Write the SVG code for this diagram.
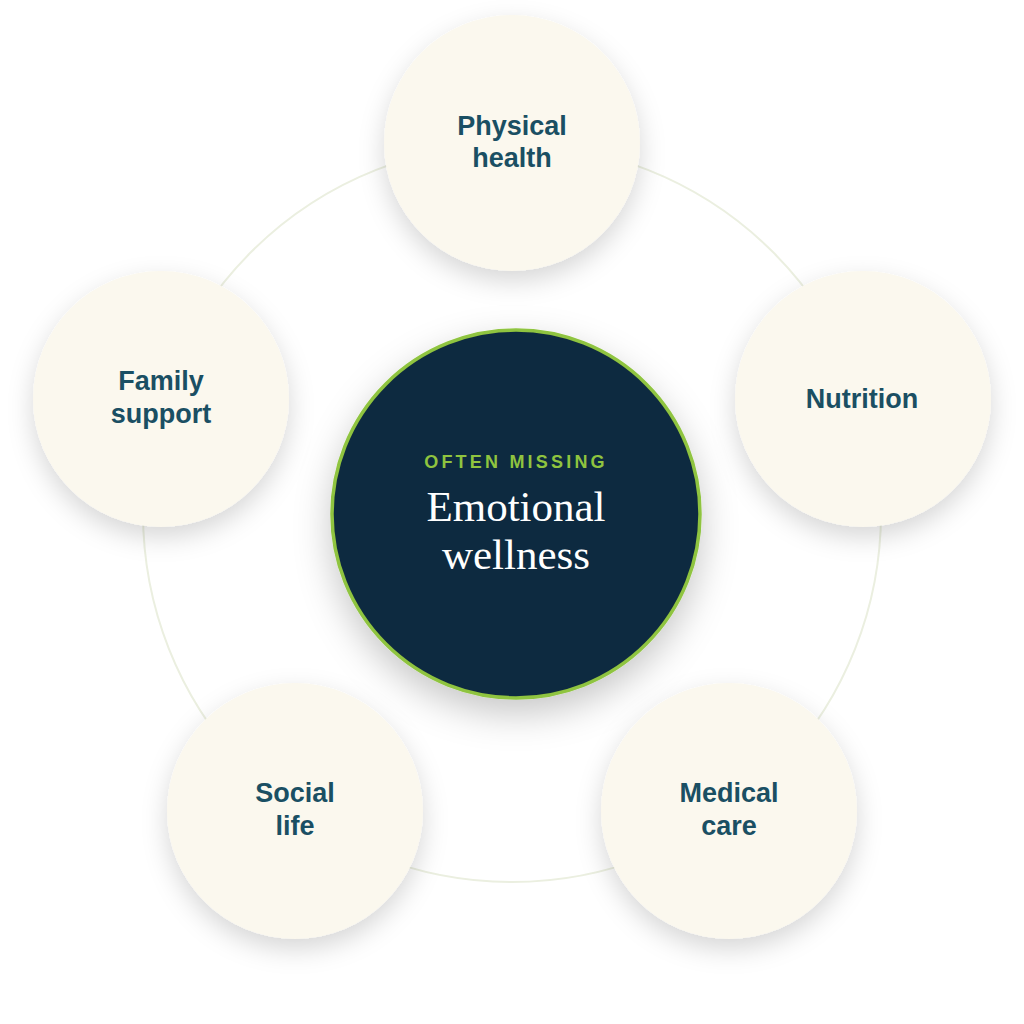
<svg xmlns="http://www.w3.org/2000/svg" width="1024" height="1024" viewBox="0 0 1024 1024">
<style>
.node{fill:#fbf8ee;filter:url(#sh);}
.lbl{font-family:"Liberation Sans",Arial,sans-serif;font-weight:bold;font-size:27px;fill:#1a4f63;text-anchor:middle;}
.ring{fill:none;stroke:#ebefe0;stroke-width:2;}
</style>
<defs>
<filter id="sh" x="-40%" y="-40%" width="180%" height="180%">
<feDropShadow dx="0" dy="10" stdDeviation="13" flood-color="#000" flood-opacity="0.16"/>
</filter>
<filter id="sh2" x="-40%" y="-40%" width="180%" height="180%">
<feDropShadow dx="0" dy="14" stdDeviation="18" flood-color="#000" flood-opacity="0.22"/>
</filter>
</defs>
<rect width="1024" height="1024" fill="#ffffff"/>
<g id="connectors">
<circle class="ring" cx="512" cy="513" r="369"/>
</g>
<g id="physical-health">
<circle class="node" cx="512" cy="143" r="128"/>
<text class="lbl" x="512" y="135">Physical</text>
<text class="lbl" x="512" y="167">health</text>
</g>
<g id="nutrition">
<circle class="node" cx="863" cy="399" r="128"/>
<text class="lbl" x="862" y="408">Nutrition</text>
</g>
<g id="medical-care">
<circle class="node" cx="729" cy="811" r="128"/>
<text class="lbl" x="729" y="802">Medical</text>
<text class="lbl" x="729" y="835">care</text>
</g>
<g id="social-life">
<circle class="node" cx="295" cy="811" r="128"/>
<text class="lbl" x="295" y="802">Social</text>
<text class="lbl" x="295" y="835">life</text>
</g>
<g id="family-support">
<circle class="node" cx="161" cy="399" r="128"/>
<text class="lbl" x="161" y="390">Family</text>
<text class="lbl" x="161" y="423">support</text>
</g>
<g id="emotional-wellness">
<circle cx="516" cy="514" r="184" fill="#112b3f" stroke="#8fc43f" stroke-width="3.5" filter="url(#sh2)"/>
<text x="516" y="468" font-family="Liberation Sans,Arial,sans-serif" font-weight="bold" font-size="18" letter-spacing="3.2" fill="#8fc43f" text-anchor="middle">OFTEN MISSING</text>
<text x="516" y="521" font-family="Liberation Serif,Times New Roman,serif" font-size="43" fill="#ffffff" text-anchor="middle">Emotional</text>
<text x="516" y="569" font-family="Liberation Serif,Times New Roman,serif" font-size="43" fill="#ffffff" text-anchor="middle">wellness</text>
</g>
</svg>
